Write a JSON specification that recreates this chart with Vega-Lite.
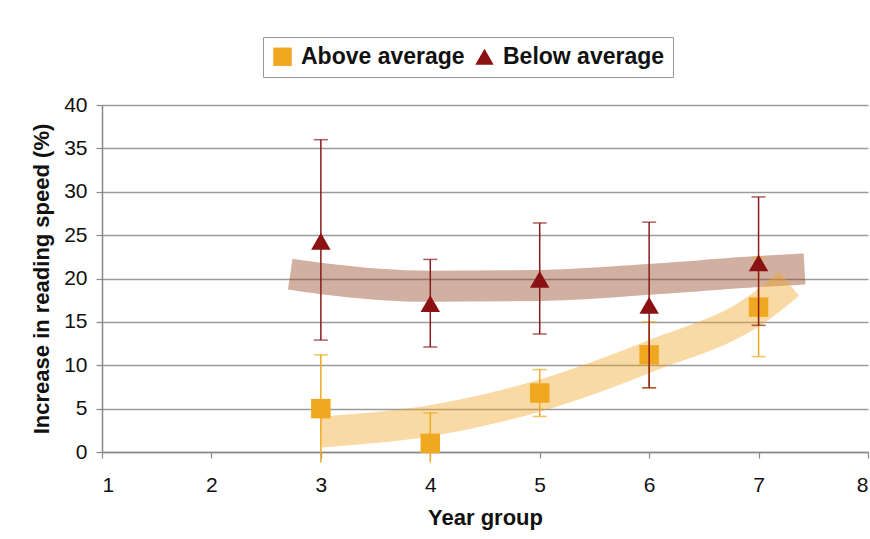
{
  "$schema": "https://vega.github.io/schema/vega-lite/v6.json",
  "autosize": {"type": "none"},
  "width": 766,
  "height": 347,
  "padding": {"left": 102, "top": 105, "right": 2, "bottom": 87},
  "background": "white",
  "config": {
    "font": "Liberation Sans",
    "view": {"stroke": null},
    "axis": {
      "labelFont": "Liberation Sans",
      "labelFontSize": 21,
      "labelColor": "#111111",
      "titleFont": "Liberation Sans",
      "titleFontSize": 22,
      "titleFontWeight": "bold",
      "titleColor": "#111111",
      "domainColor": "#888888",
      "domainWidth": 1.5,
      "tickColor": "#888888",
      "tickWidth": 1.2,
      "tickSize": 6
    }
  },
  "datasets": {
    "above": [
      {"year": 3, "value": 5.0, "lo": -1.2, "hi": 11.2, "group": "Above average"},
      {"year": 4, "value": 1.0, "lo": -1.2, "hi": 4.5, "group": "Above average"},
      {"year": 5, "value": 6.8, "lo": 4.1, "hi": 9.5, "group": "Above average"},
      {"year": 6, "value": 11.2, "lo": 7.4, "hi": 15.0, "group": "Above average"},
      {"year": 7, "value": 16.7, "lo": 11.0, "hi": 22.4, "group": "Above average"}
    ],
    "below": [
      {"year": 3, "value": 24.3, "lo": 12.9, "hi": 36.0, "group": "Below average"},
      {"year": 4, "value": 17.1, "lo": 12.1, "hi": 22.2, "group": "Below average"},
      {"year": 5, "value": 19.9, "lo": 13.6, "hi": 26.4, "group": "Below average"},
      {"year": 6, "value": 16.9, "lo": 7.4, "hi": 26.5, "group": "Below average"},
      {"year": 7, "value": 21.8, "lo": 14.6, "hi": 29.4, "group": "Below average"}
    ],
    "band_below": [
      {"x": 2.72, "y": 20.5},
      {"x": 3.0, "y": 20.0},
      {"x": 4.0, "y": 19.1},
      {"x": 5.0, "y": 19.2},
      {"x": 6.0, "y": 19.9},
      {"x": 7.0, "y": 20.8},
      {"x": 7.42, "y": 21.1}
    ],
    "band_above": [
      {"x": 3.0, "y": 2.3},
      {"x": 4.0, "y": 3.6},
      {"x": 5.0, "y": 6.5},
      {"x": 6.0, "y": 11.0},
      {"x": 7.0, "y": 16.6},
      {"x": 7.28, "y": 19.4}
    ]
  },
  "layer": [
    {
      "data": {"name": "band_below"},
      "mark": {"type": "line", "color": "#92401F", "opacity": 0.42, "strokeWidth": 31, "strokeCap": "butt", "interpolate": "monotone"},
      "encoding": {
        "x": {"field": "x", "type": "quantitative", "scale": {"domain": [1, 8], "nice": false, "zero": false},
              "axis": {"values": [1, 2, 3, 4, 5, 6, 7, 8], "grid": false, "title": "Year group", "labelPadding": 16, "titlePadding": 12, "format": "d"}},
        "y": {"field": "y", "type": "quantitative", "scale": {"domain": [0, 40], "nice": false},
              "axis": {"values": [0, 5, 10, 15, 20, 25, 30, 35, 40], "grid": true, "gridColor": "#9a9a9a", "gridWidth": 1.5,
                       "title": "Increase in reading speed (%)", "labelPadding": 9, "titlePadding": 10}}
      }
    },
    {
      "data": {"name": "band_above"},
      "mark": {"type": "line", "color": "#F0A828", "opacity": 0.42, "strokeWidth": 31, "strokeCap": "butt", "interpolate": "monotone"},
      "encoding": {
        "x": {"field": "x", "type": "quantitative"},
        "y": {"field": "y", "type": "quantitative"}
      }
    },
    {
      "data": {"name": "above"},
      "mark": {"type": "rule", "color": "#F0A820", "strokeWidth": 1.5},
      "encoding": {
        "x": {"field": "year", "type": "quantitative"},
        "y": {"field": "lo", "type": "quantitative"},
        "y2": {"field": "hi"}
      }
    },
    {
      "data": {"name": "above"},
      "mark": {"type": "tick", "orient": "horizontal", "color": "#F0A820", "size": 14, "thickness": 1.5, "clip": true},
      "encoding": {
        "x": {"field": "year", "type": "quantitative"},
        "y": {"field": "hi", "type": "quantitative"}
      }
    },
    {
      "data": {"name": "above"},
      "mark": {"type": "tick", "orient": "horizontal", "color": "#F0A820", "size": 14, "thickness": 1.5, "clip": true},
      "encoding": {
        "x": {"field": "year", "type": "quantitative"},
        "y": {"field": "lo", "type": "quantitative"}
      }
    },
    {
      "data": {"name": "above"},
      "mark": {"type": "point", "filled": true, "opacity": 1, "size": 380},
      "encoding": {
        "x": {"field": "year", "type": "quantitative"},
        "y": {"field": "value", "type": "quantitative"},
        "color": {"field": "group", "type": "nominal",
                  "scale": {"domain": ["Above average", "Below average"], "range": ["#F0A820", "#8B1212"]},
                  "legend": {"orient": "none", "legendX": 161, "legendY": -68, "direction": "horizontal", "title": null,
                             "strokeColor": "#999999", "fillColor": "white", "padding": 8, "labelLimit": 0,
                             "labelFont": "Liberation Sans", "labelFontSize": 23, "labelFontWeight": "bold", "labelColor": "#111111",
                             "symbolSize": 340, "symbolStrokeWidth": 0, "columnPadding": 8, "labelOffset": 7}},
        "shape": {"field": "group", "type": "nominal",
                  "scale": {"domain": ["Above average", "Below average"], "range": ["square", "triangle-up"]},
                  "legend": {"orient": "none", "legendX": 161, "legendY": -68, "direction": "horizontal", "title": null,
                             "strokeColor": "#999999", "fillColor": "white", "padding": 8, "labelLimit": 0,
                             "labelFont": "Liberation Sans", "labelFontSize": 23, "labelFontWeight": "bold", "labelColor": "#111111",
                             "symbolSize": 340, "symbolStrokeWidth": 0, "columnPadding": 8, "labelOffset": 7}}
      }
    },
    {
      "data": {"name": "below"},
      "mark": {"type": "rule", "color": "#8B1A1A", "strokeWidth": 1.5},
      "encoding": {
        "x": {"field": "year", "type": "quantitative"},
        "y": {"field": "lo", "type": "quantitative"},
        "y2": {"field": "hi"}
      }
    },
    {
      "data": {"name": "below"},
      "mark": {"type": "tick", "orient": "horizontal", "color": "#8B1A1A", "size": 14, "thickness": 1.5},
      "encoding": {
        "x": {"field": "year", "type": "quantitative"},
        "y": {"field": "hi", "type": "quantitative"}
      }
    },
    {
      "data": {"name": "below"},
      "mark": {"type": "tick", "orient": "horizontal", "color": "#8B1A1A", "size": 14, "thickness": 1.5},
      "encoding": {
        "x": {"field": "year", "type": "quantitative"},
        "y": {"field": "lo", "type": "quantitative"}
      }
    },
    {
      "data": {"name": "below"},
      "mark": {"type": "point", "filled": true, "opacity": 1, "size": 380},
      "encoding": {
        "x": {"field": "year", "type": "quantitative"},
        "y": {"field": "value", "type": "quantitative"},
        "color": {"field": "group", "type": "nominal"},
        "shape": {"field": "group", "type": "nominal"}
      }
    }
  ]
}
